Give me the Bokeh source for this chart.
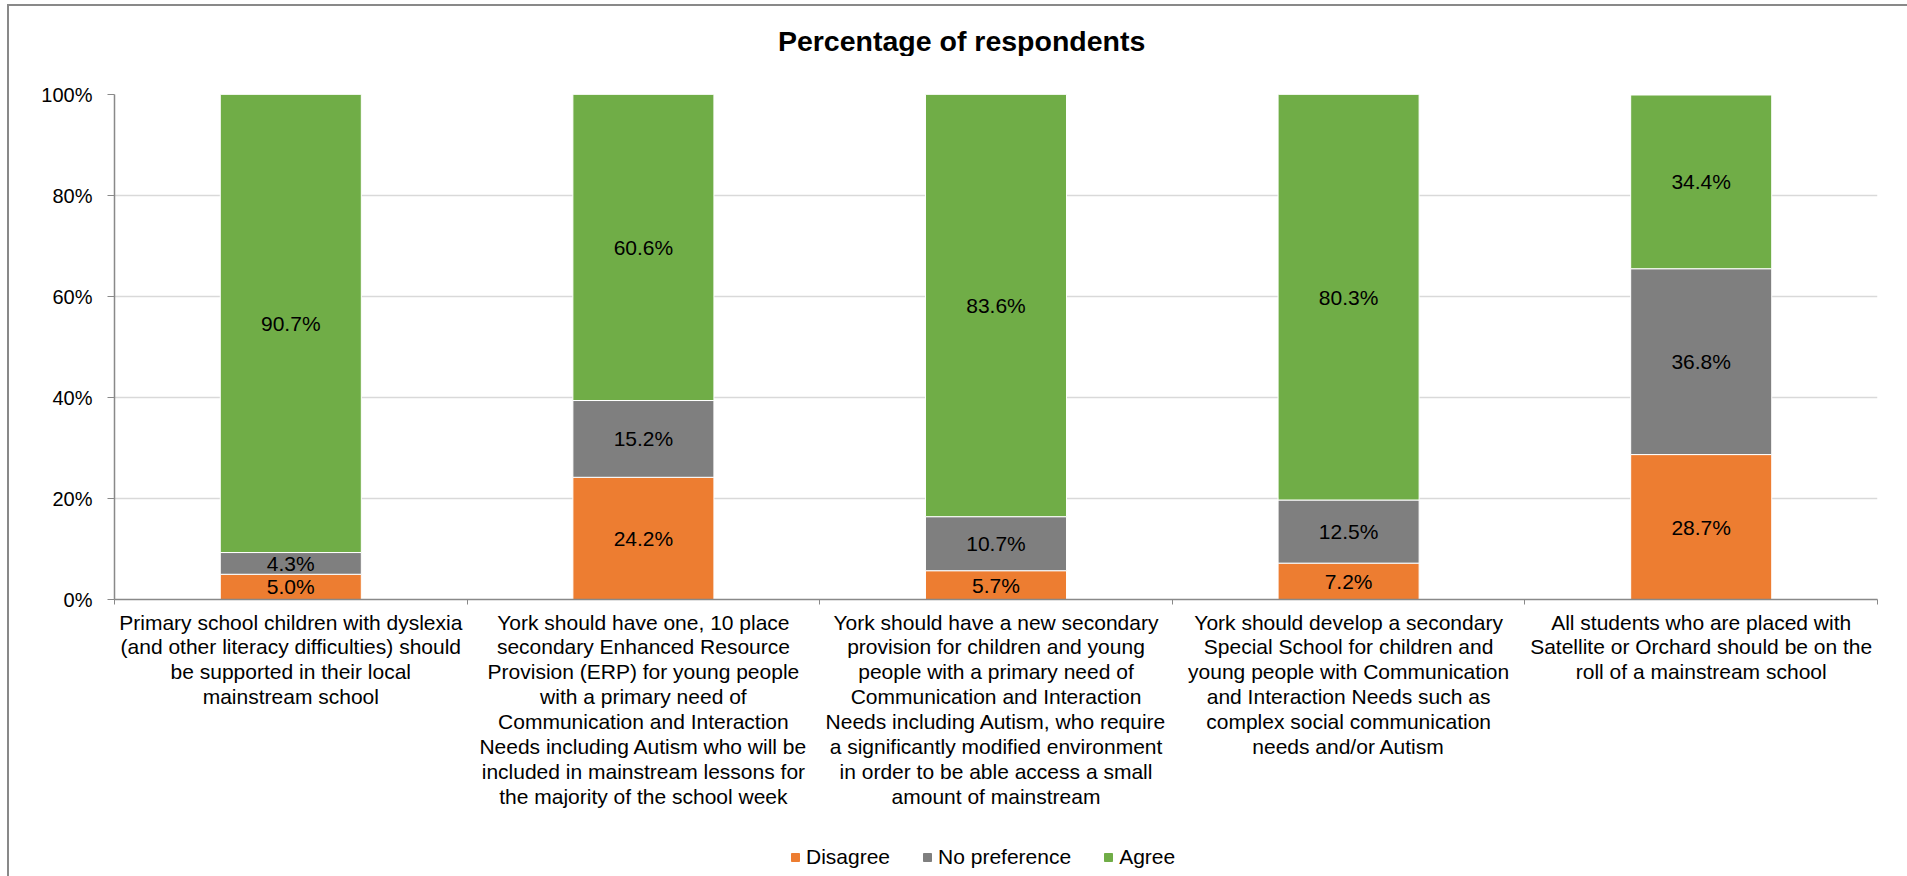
from bokeh.plotting import figure
from bokeh.layouts import column
from bokeh.models import (ColumnDataSource, Range1d, FixedTicker, NumeralTickFormatter,
                          Legend, LegendItem, LabelSet, Label)
from bokeh.core.properties import value
from bokeh.embed import file_html
from bokeh.resources import INLINE

# ---- data ----
categories = [
    "Primary school children with dyslexia\n(and other literacy difficulties) should\nbe supported in their local\nmainstream school",
    "York should have one, 10 place\nsecondary Enhanced Resource\nProvision (ERP) for young people\nwith a primary need of\nCommunication and Interaction\nNeeds including Autism who will be\nincluded in mainstream lessons for\nthe majority of the school week",
    "York should have a new secondary\nprovision for children and young\npeople with a primary need of\nCommunication and Interaction\nNeeds including Autism, who require\na significantly modified environment\nin order to be able access a small\namount of mainstream",
    "York should develop a secondary\nSpecial School for children and\nyoung people with Communication\nand Interaction Needs such as\ncomplex social communication\nneeds and/or Autism",
    "All students who are placed with\nSatellite or Orchard should be on the\nroll of a mainstream school",
]
series_names = ["Disagree", "No preference", "Agree"]
disagree = [5.0, 24.2, 5.7, 7.2, 28.7]
no_preference = [4.3, 15.2, 10.7, 12.5, 36.8]
agree = [90.7, 60.6, 83.6, 80.3, 34.4]
y_ticks = [0, 0.2, 0.4, 0.6, 0.8, 1.0]
title_text = "Percentage of respondents"

colors = ["#ED7D31", "#7F7F7F", "#70AD47"]
FONT = "Liberation Sans"
W = 1898

n = len(categories)
xs = [i + 0.5 for i in range(n)]
series = [disagree, no_preference, agree]

data = {"x": xs}
for name, vals in zip(series_names, series):
    data[name] = [v / 100.0 for v in vals]
source = ColumnDataSource(data)

# ---- title strip ----
tf = figure(width=W, height=50, x_range=Range1d(0, W), y_range=Range1d(0, 50),
            output_backend="svg", toolbar_location=None,
            x_axis_location=None, y_axis_location=None,
            min_border_left=0, min_border_right=0, min_border_top=0, min_border_bottom=0)
tf.grid.visible = False
tf.outline_line_color = None
tf.border_fill_color = "white"
tf.add_layout(Label(x=912, y=16, text=title_text, text_align="center", text_baseline="middle",
                    text_font=FONT, text_font_size="28.5px", text_font_style="bold",
                    text_color="#000000"))

# ---- main chart ----
p = figure(width=W, height=774, x_range=Range1d(0, n), y_range=Range1d(0, 1),
           output_backend="svg", toolbar_location=None,
           min_border_left=105, min_border_right=30, min_border_top=38, min_border_bottom=231)

renderers = p.vbar_stack(series_names, x="x", width=0.4, color=colors, source=source,
                         line_color="white", line_width=1)

# data labels
lx, ly, lt = [], [], []
bottoms = [0.0] * n
for vals in series:
    for i, v in enumerate(vals):
        lx.append(xs[i])
        ly.append(bottoms[i] + v / 200.0)
        lt.append(f"{v:.1f}%")
        bottoms[i] += v / 100.0
lsrc = ColumnDataSource(dict(x=lx, y=ly, t=lt))
labels = LabelSet(x="x", y="y", text="t", source=lsrc, text_align="center",
                  text_baseline="middle", text_font=value(FONT), text_font_size="21px",
                  text_color="#000000")
p.add_layout(labels)

p.outline_line_color = None
p.background_fill_color = "white"
p.border_fill_color = "white"

xa = p.xaxis[0]
xa.ticker = FixedTicker(ticks=xs, minor_ticks=list(range(n + 1)))
xa.major_label_overrides = {x: c for x, c in zip(xs, categories)}
xa.major_tick_line_color = None
xa.major_tick_out = 0
xa.major_tick_in = 0
xa.minor_tick_out = 5
xa.minor_tick_in = 0
xa.minor_tick_line_color = "#898989"
xa.axis_line_color = "#898989"
xa.axis_line_width = 1.5
xa.major_label_text_font = FONT
xa.major_label_text_font_size = "21px"
xa.major_label_text_color = "#000000"
xa.major_label_text_line_height = 1.085
xa.major_label_standoff = 6
xa.major_label_orientation = "horizontal"

ya = p.yaxis[0]
ya.ticker = FixedTicker(ticks=y_ticks)
ya.formatter = NumeralTickFormatter(format="0%")
ya.major_tick_out = 7
ya.major_tick_in = 0
ya.minor_tick_line_color = None
ya.major_tick_line_color = "#898989"
ya.axis_line_color = "#898989"
ya.axis_line_width = 1.5
ya.major_label_text_font = FONT
ya.major_label_text_font_size = "20px"
ya.major_label_text_color = "#000000"
ya.major_label_standoff = 15

p.xgrid.grid_line_color = None
p.ygrid.ticker = FixedTicker(ticks=y_ticks)
p.ygrid.grid_line_color = "#D9D9D9"
p.ygrid.grid_line_width = 1.5

# ---- legend strip below the chart ----
lf = figure(width=W, height=46, x_range=Range1d(0, n), y_range=Range1d(10, 11),
            output_backend="svg", toolbar_location=None,
            min_border_left=0, min_border_right=0, min_border_top=0, min_border_bottom=0)
lf.axis.visible = False
lf.grid.visible = False
lf.outline_line_color = None
lf.border_fill_color = "white"
leg_rs = lf.vbar_stack(series_names, x="x", width=0.4, color=colors, source=source)
legend = Legend(items=[LegendItem(label=nm, renderers=[r]) for nm, r in zip(series_names, leg_rs)],
                orientation="horizontal", location=(676, 7),
                label_text_font=FONT, label_text_font_size="21px", label_text_color="#000000",
                glyph_width=10, glyph_height=10, label_standoff=6, spacing=32,
                border_line_color=None, background_fill_alpha=0, padding=0, margin=0)
lf.add_layout(legend)

layout = column(tf, p, lf, spacing=0)
layout.styles = {"margin-left": "7px", "margin-top": "4px",
                 "border-left": "2px solid #898989", "border-top": "2px solid #898989"}

open("out.html", "w").write(file_html(layout, INLINE))
